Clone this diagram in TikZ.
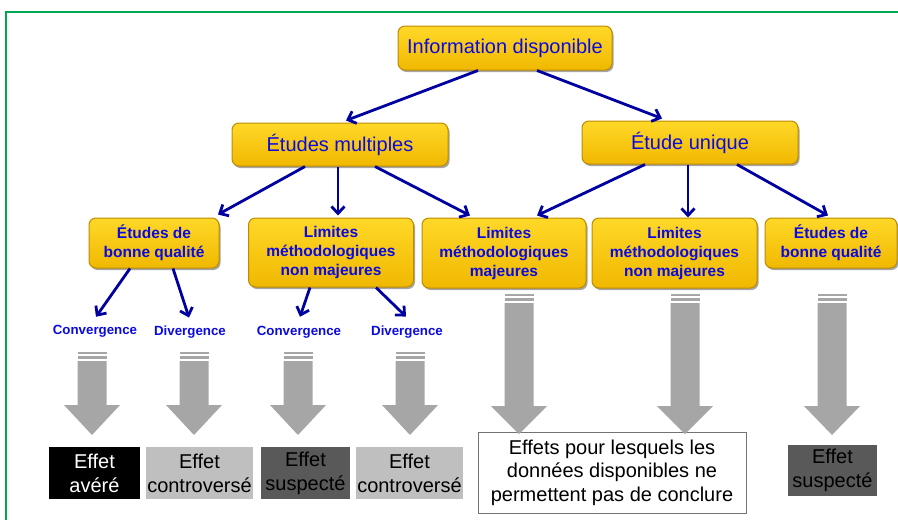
\documentclass[tikz,border=0pt]{standalone}
\usepackage{fontspec}
\setmainfont{Liberation Sans}
\usetikzlibrary{arrows.meta,shadows,calc}
\definecolor{ytop}{RGB}{255,216,40}
\definecolor{ymid}{RGB}{255,204,0}
\definecolor{ybot}{RGB}{240,184,0}
\definecolor{ybord}{RGB}{190,140,0}
\definecolor{txtblue}{RGB}{10,10,225}
\definecolor{arrblue}{RGB}{0,0,160}
\definecolor{arrgray}{RGB}{166,166,166}
\definecolor{framegreen}{RGB}{0,166,80}
\definecolor{lgray}{RGB}{191,191,191}
\definecolor{dgray}{RGB}{89,89,89}
\newcommand\grayarrow[4]{%
  \fill[arrgray] (#1-14.5,#2) rectangle (#1+14.5,#2+2);
  \fill[arrgray] (#1-14.5,#2+4) rectangle (#1+14.5,#2+7);
  \fill[arrgray] (#1-14.5,#2+9) -- (#1+14.5,#2+9) -- (#1+14.5,#3) -- (#1+28,#3)
    -- (#1,#4) -- (#1-28,#3) -- (#1-14.5,#3) -- cycle;}
\begin{document}
\begin{tikzpicture}[x=1pt,y=-1pt,
  ybox/.style={rounded corners=7pt, draw=ybord, line width=1pt,
    top color=ytop, middle color=ymid, bottom color=ybot,
    drop shadow={shadow xshift=1.5pt, shadow yshift=-2pt, fill=black, opacity=.35},
    inner sep=0pt, align=center, text=txtblue},
  bigtxt/.style={font=\fontsize{20}{23}\selectfont},
  smalltxt/.style={font=\bfseries\fontsize{15.5}{19}\selectfont},
  lbl/.style={text=txtblue, font=\bfseries\fontsize{13.3}{15}\selectfont, inner sep=0pt},
  barrow/.style={draw=arrblue, line width=2.8pt, -{Straight Barb[length=7pt,width=13pt]}},
  result/.style={inner sep=0pt, align=center, font=\fontsize{20}{24}\selectfont}]
\useasboundingbox (0,0) rectangle (898,520);
\fill[white] (0,0) rectangle (898,520);
\draw[framegreen, line width=2pt] (6,521) -- (6,12) -- (899,12);

% yellow boxes
\node[ybox, bigtxt, minimum width=214pt, minimum height=44pt] (info) at (505,48) {Information disponible};
\node[ybox, bigtxt, minimum width=216pt, minimum height=43pt] (multi) at (340,144.5) {Études multiples};
\node[ybox, bigtxt, minimum width=216pt, minimum height=43pt] (unique) at (690,142.5) {Étude unique};
\node[ybox, smalltxt, minimum width=130pt, minimum height=50pt] (bonneL) at (154,243) {Études de\\bonne qualité};
\node[ybox, smalltxt, minimum width=165pt, minimum height=69pt] (limL) at (331,252.5) {Limites\\méthodologiques\\non majeures};
\node[ybox, smalltxt, minimum width=164pt, minimum height=70pt] (limMaj) at (504,253) {Limites\\méthodologiques\\majeures};
\node[ybox, smalltxt, minimum width=165pt, minimum height=70pt] (limR) at (674.5,253) {Limites\\méthodologiques\\non majeures};
\node[ybox, smalltxt, minimum width=132pt, minimum height=50pt] (bonneR) at (831,243) {Études de\\bonne qualité};

% labels
\node[lbl] (conv1) at (95,331) {Convergence};
\node[lbl] (div1) at (190,332) {Divergence};
\node[lbl] (conv2) at (299,332) {Convergence};
\node[lbl] (div2) at (407,332) {Divergence};

% blue arrows
\draw[barrow] ([xshift=-27pt]info.south) -- ([xshift=6pt,yshift=2pt]multi.north);
\draw[barrow] ([xshift=32pt]info.south) -- ([xshift=-28pt,yshift=2pt]unique.north);
\draw[barrow] ([xshift=-35pt]multi.south) -- ([xshift=64pt,yshift=3pt]bonneL.north);
\draw[barrow] ([xshift=-2pt]multi.south) -- ([xshift=7pt,yshift=2pt]limL.north);
\draw[barrow] ([xshift=35pt]multi.south) -- ([xshift=-34pt,yshift=2pt]limMaj.north);
\draw[barrow] ([xshift=-45pt]unique.south) -- ([xshift=33pt,yshift=2pt]limMaj.north);
\draw[barrow] ([xshift=-2pt]unique.south) -- ([xshift=13.5pt]limR.north);
\draw[barrow] ([xshift=47pt]unique.south) -- ([xshift=-3pt,yshift=2pt]bonneR.north);
\draw[barrow] ([xshift=-24pt]bonneL.south) -- ([xshift=1pt,yshift=8pt]conv1.north);
\draw[barrow] ([xshift=19pt]bonneL.south) -- ([xshift=-1pt,yshift=8pt]div1.north);
\draw[barrow] ([xshift=-21pt]limL.south) -- ([xshift=1pt,yshift=9pt]conv2.north);
\draw[barrow] ([xshift=45pt]limL.south) -- ([xshift=-1pt,yshift=9pt]div2.north);

% result boxes
\node[result, fill=black, text=white, minimum width=91pt, minimum height=52pt] (avere) at (94.5,473) {Effet\\avéré};
\node[result, fill=lgray, minimum width=107pt, minimum height=52pt] (contro1) at (199.5,473) {Effet\\controversé};
\node[result, fill=dgray, minimum width=89pt, minimum height=52pt] (susp1) at (305.5,473) {Effet\\suspecté};
\node[result, fill=lgray, minimum width=107pt, minimum height=52pt] (contro2) at (409.5,473) {Effet\\controversé};
\node[result, fill=white, draw=black!55, line width=1pt, minimum width=268pt, minimum height=81pt, font=\fontsize{20}{23.5}\selectfont] (nocon) at (612,472.5) {Effets pour lesquels les\\données disponibles ne\\permettent pas de conclure};
\node[result, fill=dgray, minimum width=89pt, minimum height=51pt] (susp2) at (832.5,470.5) {Effet\\suspecté};

% gray block arrows
\grayarrow{92}{352}{405}{435}
\grayarrow{194}{352}{405}{435}
\grayarrow{298}{352}{405}{435}
\grayarrow{410}{352}{405}{435}
\grayarrow{519}{294}{406}{434}
\grayarrow{685}{294}{406}{434}
\grayarrow{832}{294}{406}{435}
\end{tikzpicture}
\end{document}
